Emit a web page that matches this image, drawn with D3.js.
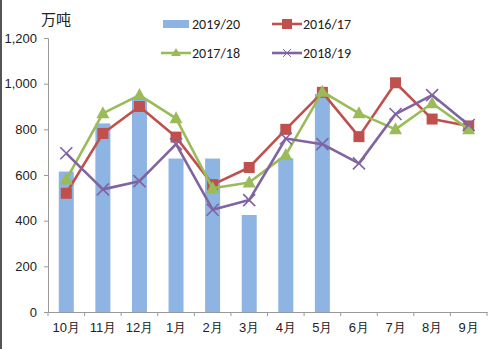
<!DOCTYPE html>
<html><head><meta charset="utf-8">
<script src="https://cdn.jsdelivr.net/npm/d3@7/dist/d3.min.js"></script>
<style>body{margin:0;background:#fff;}svg{display:block;font-family:Calibri,"Liberation Sans","Noto Sans CJK SC",sans-serif;}</style>
</head><body><svg id="c" width="500" height="349"></svg>
<script>
const months = ["10月","11月","12月","1月","2月","3月","4月","5月","6月","7月","8月","9月"];
const s2019 = [615,826,930,672,672,425,673,955,null,null,null,null];
const s2016 = [520,782,900,766,558,633,800,962,768,1004,845,815];
const s2017 = [580,870,950,848,542,567,688,965,870,800,914,800];
const s2018 = [695,537,573,735,448,490,760,735,651,867,950,819];
const yTicks = [0,200,400,600,800,1000,1200];
const yUnit = "万吨";

(function(){
const svg = d3.select("#c");
const mLeft = 48, mRight = 487, mTop = 38, mBottom = 312;
const x = d3.scaleBand().domain(months).range([mLeft, mRight]);
const y = d3.scaleLinear().domain([0,1200]).range([mBottom, mTop]);

svg.append("rect").attr("x",0).attr("y",0).attr("width",2).attr("height",349).attr("fill","#555");

svg.append("g").selectAll("rect").data(months.map((m,i)=>({m,v:s2019[i]})).filter(d=>d.v!=null))
  .join("rect").attr("x",d=>x(d.m)+x.bandwidth()/2-7.5).attr("width",15)
  .attr("y",d=>y(d.v)).attr("height",d=>y(0)-y(d.v)).attr("fill","#8DB4E2");

const yAxis = d3.axisLeft(y).tickValues(yTicks).tickSize(4).tickPadding(7).tickFormat(d3.format(","));
const gy = svg.append("g").attr("transform",`translate(${mLeft},0)`).call(yAxis);
gy.selectAll("path,line").attr("stroke","#999");
gy.selectAll("text").attr("font-size",13).attr("fill","#222");

const xAxis = d3.axisBottom(x).tickSize(0).tickPadding(11);
const gx = svg.append("g").attr("transform",`translate(0,${mBottom})`).call(xAxis);
gx.select("path").attr("stroke","#999");
gx.selectAll("text").attr("font-size",13).attr("fill","#222");
const bounds = months.map(m=>x(m)).concat([mRight]);
svg.append("g").selectAll("line").data(bounds).join("line")
  .attr("x1",d=>d).attr("x2",d=>d).attr("y1",mBottom).attr("y2",mBottom+4).attr("stroke","#999");

svg.append("text").attr("x",41).attr("y",25).attr("font-size",15).attr("fill","#222").text(yUnit);

const line = d3.line().x((d,i)=>x(months[i])+x.bandwidth()/2).y(d=>y(d));
function drawSeries(data,color,marker){
  svg.append("path").datum(data).attr("d",line).attr("fill","none").attr("stroke",color).attr("stroke-width",2.6).attr("stroke-linejoin","round");
  const g = svg.append("g");
  data.forEach((v,i)=>{
    const cx = x(months[i])+x.bandwidth()/2, cy = y(v);
    marker(g,cx,cy,color);
  });
}
const sq = (g,cx,cy,c)=>g.append("rect").attr("x",cx-5.5).attr("y",cy-5.5).attr("width",11).attr("height",11).attr("fill",c);
const tri = (g,cx,cy,c)=>g.append("path").attr("d",`M${cx},${cy-7}L${cx+6.5},${cy+5}L${cx-6.5},${cy+5}Z`).attr("fill",c);
const xm = (g,cx,cy,c)=>g.append("path").attr("d",`M${cx-6},${cy-6}L${cx+6},${cy+6}M${cx-6},${cy+6}L${cx+6},${cy-6}`).attr("stroke",c).attr("stroke-width",1.6);

drawSeries(s2016,"#C0504D",sq);
drawSeries(s2017,"#9BBB59",tri);
drawSeries(s2018,"#8064A2",xm);

const lg = svg.append("g").attr("font-size",14).attr("fill","#222");
lg.append("rect").attr("x",163).attr("y",20).attr("width",26).attr("height",8).attr("fill","#8DB4E2");
lg.append("text").attr("x",192).attr("y",29).text("2019/20");
const legLine=(x0,yy,c,mk,label)=>{
  lg.append("line").attr("x1",x0).attr("x2",x0+30).attr("y1",yy).attr("y2",yy).attr("stroke",c).attr("stroke-width",2.6);
  mk(lg,x0+15,yy,c);
  lg.append("text").attr("x",x0+31).attr("y",yy+5).text(label);
};
legLine(272,24,"#C0504D",(g,cx,cy,c)=>g.append("rect").attr("x",cx-5).attr("y",cy-5).attr("width",10).attr("height",10).attr("fill",c),"2016/17");
legLine(161,53,"#9BBB59",(g,cx,cy,c)=>g.append("path").attr("d",`M${cx},${cy-5}L${cx+5},${cy+3}L${cx-5},${cy+3}Z`).attr("fill",c),"2017/18");
legLine(272,53,"#8064A2",(g,cx,cy,c)=>g.append("path").attr("d",`M${cx-4},${cy-4}L${cx+4},${cy+4}M${cx-4},${cy+4}L${cx+4},${cy-4}`).attr("stroke",c).attr("stroke-width",1),"2018/19");
})();
</script></body></html>
